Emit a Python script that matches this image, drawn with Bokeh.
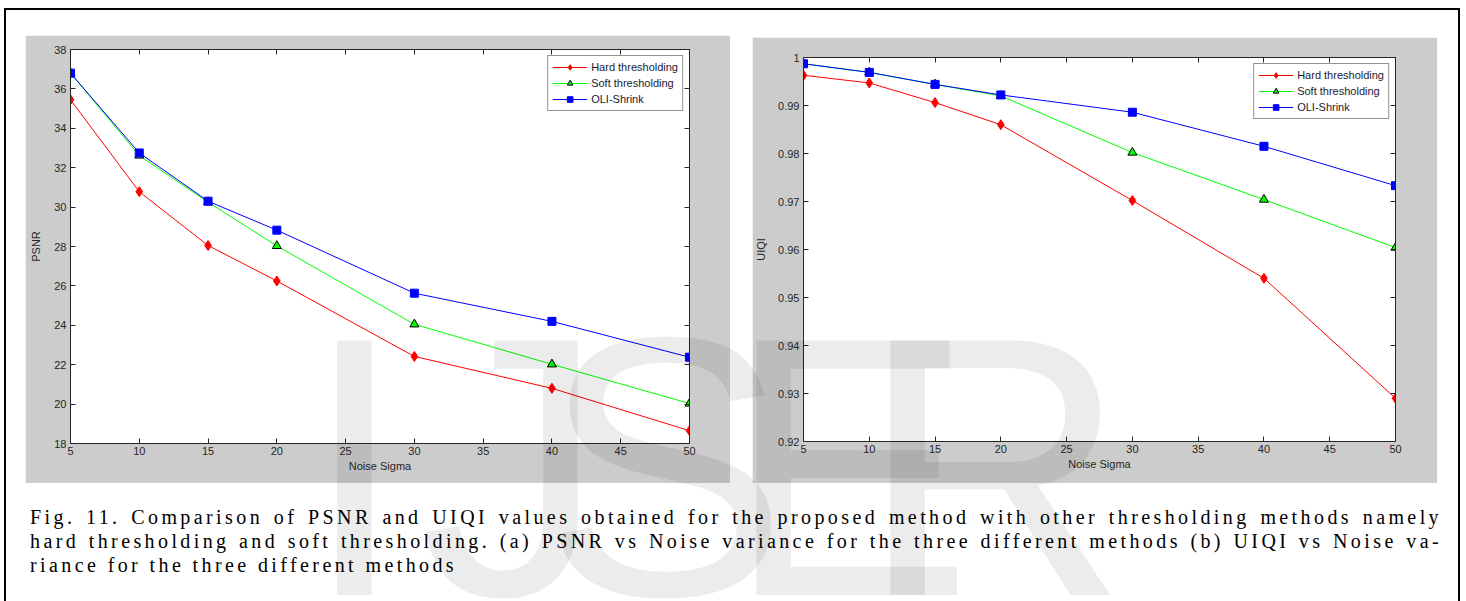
from bokeh.plotting import figure
from bokeh.models import (Range1d, FixedTicker, LinearAxis, Legend, LegendItem,
                          CustomJSTickFormatter, Div, Spacer)
from bokeh.layouts import column, row
from bokeh.embed import file_html
from bokeh.resources import INLINE

# ---------------- data ----------------
sigma = [5, 10, 15, 20, 30, 40, 50]
psnr_hard = [35.45, 30.78, 28.05, 26.25, 22.42, 20.80, 18.65]
psnr_soft = [36.80, 32.62, 30.25, 28.03, 24.05, 22.02, 20.03]
psnr_oli = [36.80, 32.75, 30.30, 28.83, 25.63, 24.20, 22.38]
uiqi_hard = [0.9963, 0.9947, 0.9906, 0.9860, 0.9702, 0.9540, 0.9290]
uiqi_soft = [0.9987, 0.9969, 0.9944, 0.9920, 0.9802, 0.9704, 0.9604]
uiqi_oli = [0.9987, 0.9969, 0.9944, 0.9922, 0.9886, 0.9815, 0.9733]

x_ticks = [5, 10, 15, 20, 25, 30, 35, 40, 45, 50]
psnr_ticks = [18, 20, 22, 24, 26, 28, 30, 32, 34, 36, 38]
uiqi_ticks = [0.92, 0.93, 0.94, 0.95, 0.96, 0.97, 0.98, 0.99, 1.0]

series_names = ["Hard thresholding", "Soft thresholding", "OLI-Shrink"]
x_title = "Noise Sigma"
psnr_title = "PSNR"
uiqi_title = "UIQI"

caption_lines = [
    "Fig. 11. Comparison of PSNR and UIQI values obtained for the proposed method with other thresholding methods namely",
    "hard thresholding and soft thresholding. (a) PSNR vs Noise variance for the three different methods (b) UIQI vs Noise va-",
    "riance for the three different methods",
]
watermark_letters = ["I", "J", "S", "E", "R"]

AX = "#262626"
FONT = "Liberation Sans"


def style_axis(ax, ticks, show_labels=True):
    ax.ticker = FixedTicker(ticks=ticks)
    ax.major_tick_in = 5
    ax.major_tick_out = 0
    ax.minor_tick_line_color = None
    ax.axis_line_color = AX
    ax.major_tick_line_color = AX
    ax.major_label_text_font = FONT
    ax.major_label_text_font_size = "11px"
    ax.major_label_text_color = AX
    ax.axis_label_text_font = FONT
    ax.axis_label_text_font_size = "11px"
    ax.axis_label_text_font_style = "normal"
    ax.axis_label_text_color = AX
    if not show_labels:
        ax.formatter = CustomJSTickFormatter(code="return '';")
        ax.major_label_standoff = 0


def make_plot(yvals, yticks, yrange, ytitle, fw, fh, borders, ylabel_standoff, yfmt=None):
    l, r, t, b = borders
    p = figure(frame_width=fw, frame_height=fh, output_backend="svg",
               toolbar_location=None, x_range=Range1d(5, 50), y_range=Range1d(*yrange),
               min_border_left=l, min_border_right=r, min_border_top=t, min_border_bottom=b,
               background_fill_color="white", border_fill_color="#cccccc",
               outline_line_color=AX)
    p.grid.visible = False
    style_axis(p.xaxis[0], x_ticks)
    style_axis(p.yaxis[0], yticks)
    p.xaxis[0].axis_label = x_title
    p.xaxis[0].major_label_standoff = 3
    p.xaxis[0].axis_label_standoff = 2
    p.yaxis[0].axis_label = ytitle
    p.yaxis[0].major_label_standoff = 4
    p.yaxis[0].axis_label_standoff = ylabel_standoff
    if yfmt is not None:
        p.yaxis[0].formatter = yfmt
    top = LinearAxis()
    style_axis(top, x_ticks, False)
    p.add_layout(top, "above")
    rgt = LinearAxis()
    style_axis(rgt, yticks, False)
    p.add_layout(rgt, "right")

    h, s, o = yvals
    l1 = p.line(sigma, h, line_color="#ff0000", line_width=1)
    m1 = p.scatter(sigma, h, marker="diamond", size=10, fill_color="#ff0000", line_color="#ff0000")
    l2 = p.line(sigma, s, line_color="#00ff00", line_width=1)
    m2 = p.scatter(sigma, s, marker="triangle", size=9, fill_color="#00ff00", line_color="black")
    l3 = p.line(sigma, o, line_color="#0000ff", line_width=1)
    m3 = p.scatter(sigma, o, marker="square", size=8, fill_color="#0000ff", line_color="#0000ff")

    legend = Legend(items=[LegendItem(label=series_names[0], renderers=[l1, m1]),
                           LegendItem(label=series_names[1], renderers=[l2, m2]),
                           LegendItem(label=series_names[2], renderers=[l3, m3])],
                    location="top_right")
    legend.label_text_font = FONT
    legend.label_text_font_size = "11px"
    legend.label_text_color = "#1a1a33"
    legend.glyph_width = 35
    legend.glyph_height = 14
    legend.label_height = 14
    legend.label_standoff = 4
    legend.spacing = 2
    legend.padding = 4
    legend.margin = 6
    legend.border_line_color = AX
    legend.border_line_width = 1
    legend.background_fill_alpha = 1
    p.add_layout(legend, "center")
    return p


pL = make_plot((psnr_hard, psnr_soft, psnr_oli), psnr_ticks, (18, 38), psnr_title,
               619, 394, (45, 41, 14, 40), 9)
pR = make_plot((uiqi_hard, uiqi_soft, uiqi_oli), uiqi_ticks, (0.92, 1.0), uiqi_title,
               592, 384, (51, 42, 20, 42), 8,
               CustomJSTickFormatter(code="return tick > 0.9999 ? '1' : tick.toFixed(2);"))

# faint publisher watermark drawn over the figure, as in the reference
wm_left = [333 - 35, 425 - 10, 553 - 17, 750 - 29, 885 - 30]
wm_spans = "".join(
    "<span style=\"position:absolute;left:%dpx;top:-206px;font-family:'Liberation Sans';"
    "font-size:370px;line-height:370px;color:rgba(0,0,0,0.075);pointer-events:none;\">%s</span>"
    % (x - 25, ch) for x, ch in zip(wm_left, watermark_letters))

line_style = "text-align:justify;text-align-last:justify;white-space:nowrap;"
cap_html = (
    "<div style=\"position:relative;padding-top:17px;font-family:'Liberation Serif';font-size:20px;"
    "letter-spacing:3.4px;line-height:24px;color:#000;width:1412px;\">"
    "<div style='" + line_style + "'>" + caption_lines[0] + "</div>"
    "<div style='" + line_style + "'>" + caption_lines[1] + "</div>"
    "<div style='text-align:left;'>" + caption_lines[2] + "</div>"
    + wm_spans +
    "</div>"
)
cap = Div(text=cap_html, width=1412, height=110, styles={"overflow": "visible", "z-index": "10"})

page = column(
    Spacer(height=25),
    row(Spacer(width=19), pL, Spacer(width=22), column(Spacer(height=2), pR)),
    row(Spacer(width=19), cap),
    width=1456, height=593,
    styles={"border-top": "2px solid black", "border-left": "2px solid black",
            "border-right": "2px solid black", "margin-left": "4px", "margin-top": "8px"},
)

open("out.html", "w").write(file_html(page, INLINE))
